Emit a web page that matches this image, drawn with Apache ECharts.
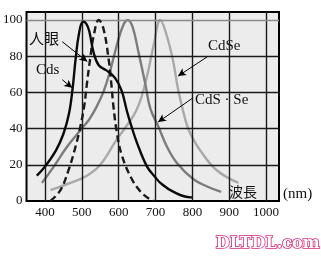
<!DOCTYPE html>
<html><head><meta charset="utf-8">
<script src="https://cdn.jsdelivr.net/npm/echarts@6/dist/echarts.min.js"></script>
<style>html,body{margin:0;padding:0;background:#fff}#c{width:321px;height:261px}</style>
</head><body><div id="c"></div>
<script>
// Tick labels
const xTicks = [400, 500, 600, 700, 800, 900, 1000];
const yTicks = [0, 20, 40, 60, 80, 100];
// Series: [wavelength nm, relative sensitivity %]
const cdsData = [[378,14],[400,19],[430,28],[450,37],[465,48],[475,62],[483,78],[492,92],[503,99],[512,98],[520,94],[532,82],[546,75],[568,72],[590,68],[608,61],[622,50],[632,43],[650,32],[677,19],[700,13],[713,10],[749,5],[795,2],[800,2]];
const eyeData = [[415,0],[442,6],[464,17],[483,30],[496,41],[507,53],[514,65],[523,79],[532,91],[546,100],[559,95],[573,78],[580,65],[586,52],[595,38],[609,25],[636,12],[660,5],[677,2],[695,0]];
const cdsseData = [[392,10],[424,19],[460,30],[500,40],[520,45],[540,52],[560,61],[577,72],[595,86],[612,97],[625,100],[638,96],[654,82],[672,65],[686,51],[708,41],[731,30],[758,21],[803,12],[840,8],[878,5]];
const cdseData = [[415,6],[469,10],[514,14],[550,20],[595,34],[640,47],[658,55],[677,69],[695,86],[713,100],[731,91],[748,77],[762,61],[785,42],[800,35],[821,28],[866,17],[925,10]];
// Annotation arrows [from, to] in data coords
const arrows = [[[447,88],[515,77]],[[447,67],[474,62.5]],[[840,79.6],[761,69]],[[802,57],[707,43.6]]];

const chart = echarts.init(document.getElementById('c'), null, {renderer:'canvas'});
const serif = '"Liberation Serif", "Times New Roman", serif';
const cjk = '"Noto Sans CJK JP", "Noto Sans CJK SC", sans-serif';
const lineS = (data, color, type, z) => ({
  type:'line', data, smooth:0.4, showSymbol:false, symbol:'none', z,
  lineStyle:{color, width:2.4, type}, silent:true
});
chart.setOption({
  animation:false,
  grid:{left:26, right:42, top:12, bottom:60, show:true, backgroundColor:'#ececec', borderColor:'#000', borderWidth:2},
  xAxis:{type:'value', min:350, max:1035,
    axisLine:{show:false}, axisTick:{show:false}, splitLine:{show:false},
    axisLabel:{customValues:xTicks, formatter:v=>String(v), margin:5, fontFamily:serif, fontSize:13, color:'#111'}},
  yAxis:{type:'value', min:0, max:104.4,
    axisLine:{show:false}, axisTick:{show:false}, splitLine:{show:false},
    axisLabel:{customValues:yTicks, formatter:v=>String(v), margin:4, fontFamily:serif, fontSize:13, color:'#111'}},
  series:[
    {type:'line', data:[], z:1, silent:true,
      markLine:{silent:true, symbol:['none','none'], label:{show:false},
        lineStyle:{color:'#1a1a1a', width:1.4, type:'solid'},
        data: xTicks.map(v=>({xAxis:v})).concat(yTicks.filter(v=>v>0).map(v=>({yAxis:v, lineStyle:{color: v===100?'#8a8a8a':'#1a1a1a', width:1.4, type:'solid'}})))}},
    lineS(cdseData, '#a9a9a9', 'solid', 3),
    lineS(cdsseData, '#7c7c7c', 'solid', 4),
    lineS(eyeData, '#1a1a1a', [7,4], 5),
    lineS(cdsData, '#0a0a0a', 'solid', 6),
    {type:'line', data:[], z:7, silent:true,
      markLine:{silent:true, symbol:['none','arrow'], symbolSize:[6,8], label:{show:false},
        lineStyle:{color:'#000', width:1, type:'solid'},
        data: arrows.map(a=>[{coord:a[0]},{coord:a[1]}])}}
  ],
  graphic:[
    {type:'text', left:29, top:31, style:{text:'人眼', font:'15px '+cjk, fill:'#111'}},
    {type:'text', left:36, top:63, style:{text:'Cds', font:'15px '+serif, fill:'#111'}},
    {type:'text', left:208, top:39, style:{text:'CdSe', font:'15px '+serif, fill:'#111'}},
    {type:'text', left:195, top:93, style:{text:'CdS · Se', font:'15px '+serif, fill:'#111'}},
    {type:'text', left:229, top:185, style:{text:'波長', font:'14px '+cjk, fill:'#111'}},
    {type:'text', left:283, top:187, style:{text:'(nm)', font:'15px '+serif, fill:'#111'}},
    {type:'text', left:215, top:235, style:{text:'DLTDL.com', font:'bold 16px "DejaVu Serif", serif', fill:'#fff', stroke:'#d8287a', lineWidth:1.6}}
  ]
});
</script></body></html>
